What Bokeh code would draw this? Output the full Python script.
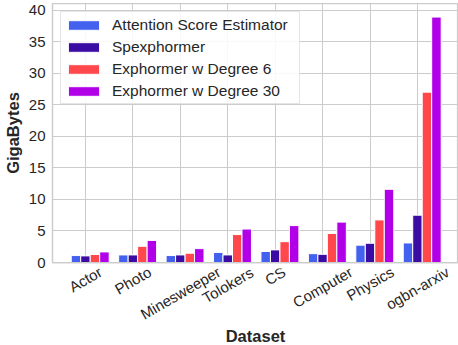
from bokeh.plotting import figure
from bokeh.models import FixedTicker, ColumnDataSource, Range1d, Label
from bokeh.layouts import column
from bokeh.embed import file_html
from bokeh.resources import INLINE

# ---- data ----
datasets = ["Actor", "Photo", "Minesweeper", "Tolokers", "CS", "Computer", "Physics", "ogbn-arxiv"]
series_names = ["Attention Score Estimator", "Spexphormer", "Exphormer w Degree 6", "Exphormer w Degree 30"]
attention_score = [1.1, 1.2, 1.1, 1.6, 1.75, 1.4, 2.75, 3.1]
spexphormer = [1.05, 1.2, 1.2, 1.2, 2.0, 1.3, 3.05, 7.5]
exphormer_d6 = [1.27, 2.57, 1.47, 4.43, 3.3, 4.6, 6.75, 27.0]
exphormer_d30 = [1.68, 3.5, 2.2, 5.3, 5.85, 6.4, 11.6, 38.9]
y_ticks = [0, 5, 10, 15, 20, 25, 30, 35, 40]
colors = ["#4361ee", "#3a0ca3", "#ff474c", "#b100e8"]
series_values = [attention_score, spexphormer, exphormer_d6, exphormer_d30]

# ---- layout constants (pixels) ----
W = 458
H_MAIN, H_BOT = 268, 77
B_TOP, B_BOTTOM, B_LEFT = 3, 6, 52
AXIS_PX = 262.3
TICK_SHIFT = 4.5       # compensation for rotated text box placement
TITLE_SHIFT = 7.0      # compensation for baseline placement
Y_END = 41.05
X_START, X_END = -0.695, 7.865
FONT = "Liberation Sans"
TXT = "#262626"
GRID = "#cccccc"

p = figure(width=W, height=H_MAIN, x_range=Range1d(X_START, X_END), y_range=Range1d(0, Y_END),
           output_backend="svg", toolbar_location=None,
           min_border_left=B_LEFT, min_border_right=0,
           min_border_top=B_TOP, min_border_bottom=B_BOTTOM)

xs = list(range(len(datasets)))
bar_w = 0.2
for k, (name, vals, col) in enumerate(zip(series_names, series_values, colors)):
    src = ColumnDataSource(dict(x=[i + (k - 1) * bar_w for i in xs], top=vals))
    p.vbar(x="x", top="top", width=bar_w, bottom=0, source=src,
           fill_color=col, line_color="white", line_width=1,
           legend_label=name)

# x axis: only the spine (labels drawn in the strip below)
xa = p.xaxis[0]
xa.ticker = FixedTicker(ticks=xs)
xa.major_label_text_font_size = "0px"
xa.major_label_text_color = None
xa.major_label_standoff = 0
xa.major_tick_out = 0
xa.major_tick_in = 0
xa.minor_tick_out = 0
xa.minor_tick_in = 0
xa.major_tick_line_color = None
xa.minor_tick_line_color = None
xa.axis_line_color = GRID
xa.axis_line_width = 1.25

# y axis
ya = p.yaxis[0]
ya.ticker = FixedTicker(ticks=y_ticks)
ya.major_label_text_font = FONT
ya.major_label_text_font_size = "15px"
ya.major_label_text_color = TXT
ya.major_label_standoff = 7
ya.major_tick_out = 0
ya.major_tick_in = 0
ya.minor_tick_out = 0
ya.minor_tick_in = 0
ya.major_tick_line_color = None
ya.minor_tick_line_color = None
ya.axis_line_color = GRID
ya.axis_line_width = 1.25
ya.axis_label = "GigaBytes"
ya.axis_label_text_font = FONT
ya.axis_label_text_font_size = "16.5px"
ya.axis_label_text_font_style = "bold"
ya.axis_label_text_color = TXT
ya.axis_label_standoff = 4

p.xgrid.ticker = FixedTicker(ticks=xs)
p.xgrid.grid_line_color = GRID
p.xgrid.grid_line_width = 1
p.ygrid.ticker = FixedTicker(ticks=y_ticks)
p.ygrid.grid_line_color = GRID
p.ygrid.grid_line_width = 1
p.outline_line_color = GRID
p.outline_line_width = 1.25
p.background_fill_color = "white"
p.border_fill_color = "white"

# legend
lg = p.legend[0]
lg.location = "top_left"
lg.margin = 8
lg.padding = 3
lg.spacing = 3
lg.label_height = 19
lg.label_width = 184
lg.glyph_height = 12
lg.glyph_width = 39
lg.label_standoff = 9
lg.label_text_font = FONT
lg.label_text_font_size = "15.5px"
lg.label_text_color = TXT
lg.border_line_color = GRID
lg.border_line_width = 1
lg.background_fill_color = "white"
lg.background_fill_alpha = 0.85

# ---- bottom strip: rotated category labels + x-axis title ----
p2 = figure(width=W, height=H_BOT, x_range=p.x_range, y_range=Range1d(H_BOT, 0),
            output_backend="svg", toolbar_location=None,
            x_axis_location=None, y_axis_location=None,
            min_border_left=B_LEFT, min_border_right=0, min_border_top=0, min_border_bottom=0)
p2.grid.visible = False
p2.outline_line_color = None
p2.background_fill_color = "white"
p2.border_fill_color = "white"

arial = {"A": 667, "c": 500, "t": 278, "o": 556, "r": 333, "P": 667, "h": 556, "M": 833,
         "i": 222, "n": 556, "e": 556, "s": 500, "w": 722, "p": 556, "T": 611, "l": 222,
         "k": 500, "C": 722, "S": 667, "m": 833, "u": 556, "y": 500, "b": 556, "g": 556,
         "x": 500, "a": 556, "v": 500, "-": 333}
fs = 15.0
pad = 4.8
line_h = 1.15 * fs
for i, name in zip(xs, datasets):
    w = sum(arial.get(ch, 556) for ch in name) / 1000.0 * fs
    off = pad + (w * 0.5 + line_h * 0.866) / 2.0
    p2.add_layout(Label(x=i, y=AXIS_PX + off - TICK_SHIFT - H_MAIN, text=name,
                        angle=30, angle_units="deg",
                        text_align="center", text_baseline="middle",
                        text_font=FONT, text_font_size="15px", text_color=TXT))

p2.add_layout(Label(x=(X_START + X_END) / 2, y=342.3 - TITLE_SHIFT - H_MAIN, text="Dataset",
                    text_align="center", text_baseline="alphabetic",
                    text_font=FONT, text_font_size="16.5px", text_font_style="bold",
                    text_color=TXT))

layout = column(p, p2, spacing=0)
open("out.html", "w").write(file_html(layout, INLINE))
